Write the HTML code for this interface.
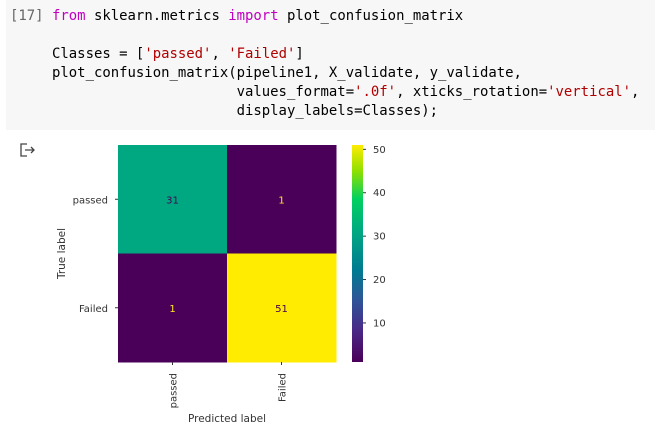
<!DOCTYPE html>
<html><head><meta charset="utf-8"><style>
body{margin:0;width:655px;height:441px;background:#fff;overflow:hidden;position:relative;font-family:"DejaVu Sans","Liberation Sans",sans-serif}
#code{position:absolute;left:6px;top:0;width:649px;height:130px;background:#f7f7f7}
.ln{position:absolute;font-family:"DejaVu Sans Mono","Liberation Mono",monospace;font-size:13.95px;color:#000;white-space:pre}
.k{color:#c000c0}.s{color:#b00000}
</style></head><body>
<div id="code"></div>
<div class="ln" style="left:10px;top:8px;color:#666">[17]</div>
<div class="ln" style="left:52px;top:8px"><span class="k">from</span> sklearn.metrics <span class="k">import</span> plot_confusion_matrix</div>
<div class="ln" style="left:52px;top:46px">Classes = [<span class="s">'passed'</span>, <span class="s">'Failed'</span>]</div>
<div class="ln" style="left:52px;top:65px">plot_confusion_matrix(pipeline1, X_validate, y_validate,</div>
<div class="ln" style="left:52px;top:84px">                      values_format=<span class="s">'.0f'</span>, xticks_rotation=<span class="s">'vertical'</span>,</div>
<div class="ln" style="left:52px;top:103px">                      display_labels=Classes);</div>
<svg width="655" height="441" style="position:absolute;left:0;top:0" id="chart">
<defs><linearGradient id="vir" x1="0" y1="1" x2="0" y2="0">
<stop offset="0" stop-color="#4a0058"/><stop offset="0.15" stop-color="#4a2a88"/><stop offset="0.3" stop-color="#2a5a98"/><stop offset="0.42" stop-color="#007a90"/><stop offset="0.6" stop-color="#00a882"/><stop offset="0.75" stop-color="#00d060"/><stop offset="0.88" stop-color="#90e000"/><stop offset="1" stop-color="#ffec00"/></linearGradient></defs>
<g stroke="#444" fill="none" stroke-width="1.3"><path d="M27 144h-6v12h6"/><path d="M25 150h9M31 147l3 3-3 3"/></g>
</svg>
<script>
const classes=['passed','Failed'];
const values=[[31,1],[1,51]];
const cbTicks=[10,20,30,40,50];
const vmin=1,vmax=51;
const svg=document.getElementById('chart');const NS='http://www.w3.org/2000/svg';
function mk(t,a,txt){const e=document.createElementNS(NS,t);for(const k in a)e.setAttribute(k,a[k]);if(txt!==undefined)e.textContent=txt;svg.appendChild(e);return e;}
const X0=118,Y0=145,W=218,H=217,n=classes.length,cw=W/n,ch=H/n;
const stops=[[0,[74,0,88]],[0.15,[74,42,136]],[0.3,[42,90,152]],[0.42,[0,122,144]],[0.6,[0,168,130]],[0.75,[0,208,96]],[0.88,[144,224,0]],[1,[255,236,0]]];
function vir(v){let t=(v-vmin)/(vmax-vmin);t=Math.max(0,Math.min(1,t));let i=0;while(i<stops.length-2&&t>stops[i+1][0])i++;const a=stops[i],b=stops[i+1];const f=(t-a[0])/(b[0]-a[0]);const c=a[1].map((x,j)=>Math.round(x+(b[1][j]-x)*f));return `rgb(${c})`;}
const cbY=v=>Y0+H-(v-vmin)/(vmax-vmin)*H;
for(let r=0;r<n;r++)for(let c=0;c<n;c++){const v=values[r][c];
const rc=mk('rect',{x:X0+c*cw,y:Y0+r*ch,width:cw+0.5,height:ch+0.5,fill:vir(v)});


const tx=mk('text',{x:X0+c*cw+cw/2,y:Y0+r*ch+ch/2+4,'text-anchor':'middle','font-size':10,fill:v>(vmin+vmax)/2?'#440154':'#fde725'},v.toFixed(0));

}
classes.forEach((c,i)=>{const y=Y0+i*ch+ch/2;
mk('line',{x1:X0-3,x2:X0,y1:y,y2:y,stroke:'#333'});
const t=mk('text',{x:X0-10,y:y+4,'text-anchor':'end','font-size':10,fill:'#333'},c);


const x=X0+i*cw+cw/2;mk('line',{x1:x,x2:x,y1:Y0+H,y2:Y0+H+3,stroke:'#333'});
const t2=mk('text',{x:x+4,y:Y0+H+11,'text-anchor':'end','font-size':10,fill:'#333',transform:`rotate(-90 ${x+4} ${Y0+H+11})`},c);

});
const yl=mk('text',{x:65,y:Y0+H/2,'text-anchor':'middle','font-size':10.5,fill:'#333',transform:`rotate(-90 65 ${Y0+H/2})`},'True label');


const xl=mk('text',{x:X0+W/2,y:422,'text-anchor':'middle','font-size':10.5,fill:'#333'},'Predicted label');


const cb=mk('rect',{x:352,y:Y0,width:11,height:H,fill:'url(#vir)'});


cbTicks.forEach(v=>{const y=cbY(v);mk('line',{x1:363,x2:366,y1:y,y2:y,stroke:'#333'});
const t=mk('text',{x:373,y:y+3.5,'font-size':10,fill:'#333'},v);

});
</script>
</body></html>
